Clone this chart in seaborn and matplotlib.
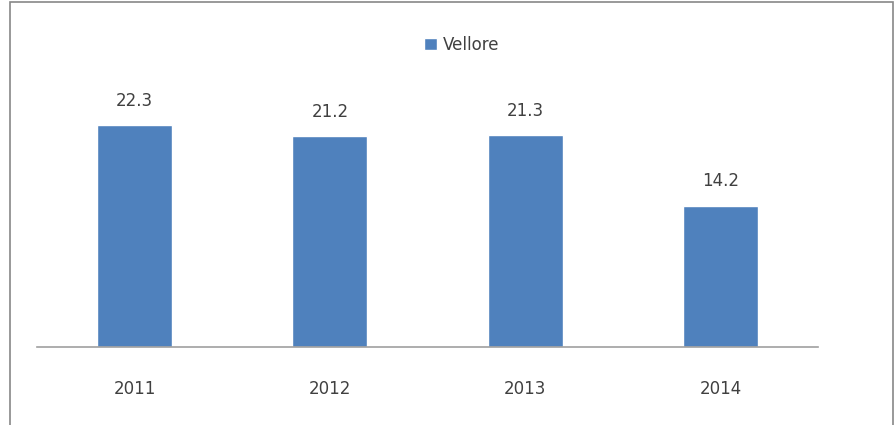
import matplotlib
matplotlib.use("Agg")
import matplotlib.pyplot as plt
import seaborn as sns
import pandas as pd
from matplotlib.patches import Rectangle

years = ["2011", "2012", "2013", "2014"]
values = [22.3, 21.2, 21.3, 14.2]
series = "Vellore"

df = pd.DataFrame({"year": years, "value": values, "series": [series] * len(years)})

sns.set_theme(style="white")
plt.rcParams["font.family"] = ["DejaVu Sans"]

fig = plt.figure(figsize=(8.96, 4.25), dpi=100)
ax = fig.add_axes([37 / 896, 78 / 425, 781 / 896, 249 / 425])

sns.barplot(data=df, x="year", y="value", hue="series", palette=["#4F81BD"],
            width=0.385, ax=ax, saturation=1, legend=True)

ax.set_xlim(-0.5, 3.5)
ax.set_ylim(0, 25)
ax.set_xlabel("")
ax.set_ylabel("")
ax.set_yticks([])
for s in ["top", "right", "left"]:
    ax.spines[s].set_visible(False)
ax.spines["bottom"].set_color("#a0a0a0")
ax.spines["bottom"].set_linewidth(1.2)
ax.tick_params(axis="x", length=0, pad=24, labelsize=12, labelcolor="#404040")

for c in ax.containers:
    ax.bar_label(c, labels=[f"{v:.1f}" for v in values], padding=11,
                 fontsize=12, color="#404040")

leg = ax.legend(loc="center", bbox_to_anchor=(462 / 896, 1 - 45 / 425),
                bbox_transform=fig.transFigure, frameon=False, fontsize=12,
                handlelength=0.75, handleheight=0.75, handletextpad=0.4)
for t in leg.get_texts():
    t.set_color("#404040")

fig.patches.append(Rectangle((10 / 896, -0.05), 883 / 896, 1.05 - 2 / 425,
                             transform=fig.transFigure, fill=False,
                             edgecolor="#888888", linewidth=1.2))

fig.savefig("out.png", dpi=100)
